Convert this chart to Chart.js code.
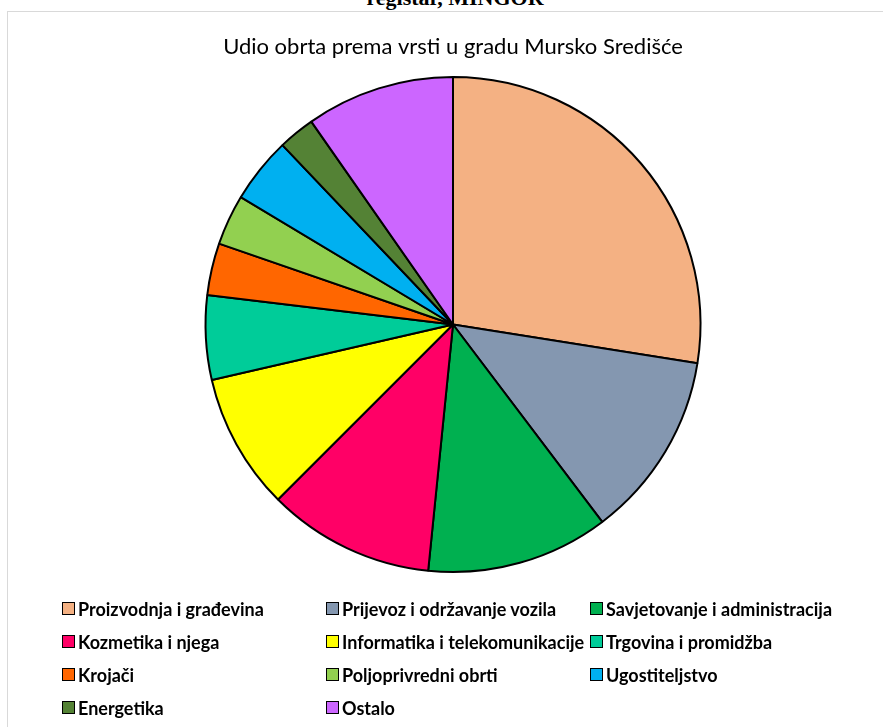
<!DOCTYPE html>
<html>
<head>
<meta charset="utf-8">
<script src="https://cdn.jsdelivr.net/npm/chart.js@4/dist/chart.umd.min.js"></script>
<style>
  body { margin: 0; background: #fff; }
  #page { position: relative; width: 883px; height: 727px; overflow: hidden; background: #fff; }
  #cap { position: absolute; left: 0; width: 910px; top: -15px; text-align: center;
         font: bold 22px "Liberation Serif", serif; color: #000; }
  #frame { position: absolute; left: 7px; top: 11px; width: 900px; height: 740px; border: 1px solid #d9d9d9; }
  #wrap { position: absolute; left: 0; top: 0; width: 883px; height: 727px; }
  #legend { position: absolute; left: 62px; top: 592px; display: grid;
            grid-template-columns: 264px 264px 264px; grid-auto-rows: 33px; }
  .item { display: flex; align-items: center; font: bold 18px Lato, sans-serif; color: #000; white-space: nowrap; }
  .box { width: 13px; height: 13px; box-sizing: border-box; border: 1.5px solid #000; margin-right: 3px; }
</style>
</head>
<body>
<div id="page">
  <div id="cap">registar, MINGOR</div>
  <div id="frame"></div>
  <div id="wrap"><canvas id="pieChart"></canvas></div>
  <div id="legend"></div>
</div>
<script>
const categories = [
  "Proizvodnja i građevina",
  "Prijevoz i održavanje vozila",
  "Savjetovanje i administracija",
  "Kozmetika i njega",
  "Informatika i telekomunikacije",
  "Trgovina i promidžba",
  "Krojači",
  "Poljoprivredni obrti",
  "Ugostiteljstvo",
  "Energetika",
  "Ostalo"
];
const shares = [27.5, 12.2, 11.9, 10.9, 8.9, 5.5, 3.4, 3.3, 4.3, 2.4, 9.7];
const sliceColors = [
  "#f4b183", "#8497b0", "#00b050", "#ff0066", "#ffff00", "#00cc99",
  "#ff6600", "#92d050", "#00b0f0", "#548235", "#cc66ff"
];

const ctx = document.getElementById("pieChart").getContext("2d");
const pieChart = new Chart(ctx, {
  type: "pie",
  data: {
    labels: categories,
    datasets: [{
      data: shares,
      backgroundColor: sliceColors,
      borderColor: "#000",
      borderWidth: 2
    }]
  },
  options: {
    responsive: true,
    maintainAspectRatio: false,
    animation: false,
    layout: { padding: { top: 0, bottom: 154, left: 23, right: 0 } },
    plugins: {
      legend: { display: false },
      tooltip: { enabled: false },
      title: {
        display: true,
        text: "Udio obrta prema vrsti u gradu Mursko Središće",
        color: "#000",
        font: { family: "Lato", size: 22, weight: "normal", lineHeight: 1.2 },
        padding: { top: 34, bottom: 15.6 }
      }
    }
  }
});

// legend in three columns, like the original
const legend = document.getElementById("legend");
categories.forEach(function (name, i) {
  const item = document.createElement("div");
  item.className = "item";
  const box = document.createElement("span");
  box.className = "box";
  box.style.background = sliceColors[i];
  item.appendChild(box);
  item.appendChild(document.createTextNode(name));
  legend.appendChild(item);
});
</script>
</body>
</html>
